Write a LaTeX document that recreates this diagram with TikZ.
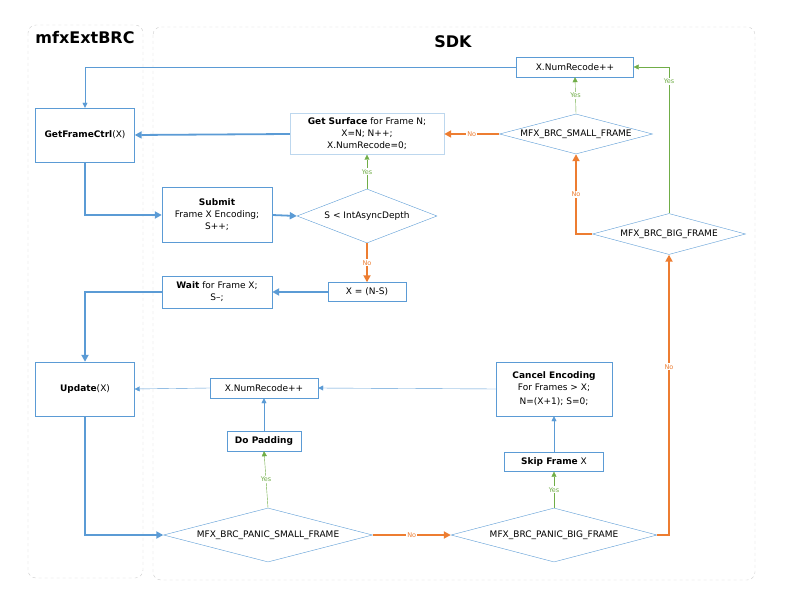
\documentclass[tikz,border=0pt]{standalone}
\usepackage{fontspec}
\setmainfont{DejaVu Sans}
\usetikzlibrary{shapes.geometric,arrows.meta}
\definecolor{fblue}{HTML}{5B9BD5}
\definecolor{forange}{HTML}{ED7D31}
\definecolor{fgreen}{HTML}{70AD47}
\definecolor{flight}{HTML}{BDD7EE}
\begin{document}
\begin{tikzpicture}[x=1pt,y=-1pt,
  font=\fontsize{9}{12}\selectfont,
  box/.style={draw=fblue,rectangle,inner sep=0,align=center},
  dia/.style={draw=fblue,diamond,inner sep=0},
  lane/.style={draw=black!20,dashed,rounded corners=8pt},
  thin/.style={fblue,-{Triangle[width=5pt,length=5pt]}},
  thick/.style={fblue,line width=1.8pt,-{Triangle[width=7pt,length=7pt]}},
  no/.style={forange,line width=1.8pt,-{Triangle[width=7pt,length=7pt]}},
  yes/.style={fgreen,-{Triangle[width=5pt,length=5pt]}},
  lbl/.style={fill=white,inner sep=1pt,font=\fontsize{6.5}{7}\selectfont},
]
\useasboundingbox (0,0) rectangle (792,612);
\draw[lane] (28,25) rectangle (143,578);
\draw[lane] (153,27) rectangle (755,580);
\node[font=\fontsize{16}{18}\selectfont\bfseries] (t1) at (85,38) {mfxExtBRC};
\node[font=\fontsize{16}{18}\selectfont\bfseries] (t2) at (453,42) {SDK};

\node[box,minimum width=99,minimum height=54] (gfc) at (85,135) {\textbf{GetFrameCtrl}(X)};
\node[box,draw=flight,minimum width=154,minimum height=41] (gs) at (367,134) {\textbf{Get Surface} for Frame N;\\X=N; N++;\\X.NumRecode=0;};
\node[box,minimum width=117,minimum height=20] (nr1) at (575,67) {X.NumRecode++};
\node[dia,minimum width=153,minimum height=40] (sf) at (576,134) {\makebox[0pt]{MFX\_BRC\_SMALL\_FRAME}};
\node[dia,minimum width=153,minimum height=41] (bf) at (669,234) {\makebox[0pt]{MFX\_BRC\_BIG\_FRAME}};
\node[box,minimum width=110,minimum height=55] (sub) at (217,215) {\textbf{Submit}\\Frame X Encoding;\\S++;};
\node[dia,minimum width=140,minimum height=54] (sd) at (367,216) {\makebox[0pt]{S < IntAsyncDepth}};
\node[box,minimum width=78,minimum height=19] (xns) at (367,292) {X = (N-S)};
\node[box,minimum width=110,minimum height=32] (wt) at (217,292) {\textbf{Wait} for Frame X;\\S--;};
\node[box,minimum width=99,minimum height=54] (upd) at (85,389) {\textbf{Update}(X)};
\node[box,minimum width=108,minimum height=20] (nr2) at (264,388) {X.NumRecode++};
\node[box,minimum width=74,minimum height=20] (pad) at (264,441) {\textbf{Do Padding}};
\node[box,minimum width=116,minimum height=54] (ce) at (554,389) {\textbf{Cancel Encoding}\\For Frames > X;\\[2pt]N=(X+1); S=0;};
\node[box,minimum width=99,minimum height=19] (sk) at (554,462) {\textbf{Skip Frame} X};
\node[dia,minimum width=209,minimum height=54] (ps) at (268,535) {\makebox[0pt]{MFX\_BRC\_PANIC\_SMALL\_FRAME}};
\node[dia,minimum width=206,minimum height=54] (pb) at (554,535) {\makebox[0pt]{MFX\_BRC\_PANIC\_BIG\_FRAME}};

\draw[thin] (nr1.west) -| (gfc.north);
\draw[thick] (gs.west) -- (gfc.east);
\draw[thick] (gfc.south) |- (sub.west);
\draw[thick] (sub.east) -- (sd.west);
\draw[yes] (sd.north) -- node[lbl] {Yes} (gs.south);
\draw[no] (sd.south) -- node[lbl] {No} (xns.north);
\draw[thick] (xns.west) -- (wt.east);
\draw[thick] (wt.west) -| (upd.north);
\draw[thick] (upd.south) |- (ps.west);
\draw[yes] (ps.north) -- node[lbl] {Yes} (pad.south);
\draw[thin] (pad.north) -- (nr2.south);
\draw[thin] (nr2.west) -- (upd.east);
\draw[no] (ps.east) -- node[lbl] {No} (pb.west);
\draw[yes] (pb.north) -- node[lbl] {Yes} (sk.south);
\draw[thin] (sk.north) -- (ce.south);
\draw[thin] (ce.west) -- (nr2.east);
\draw[no] (pb.east) -| node[lbl,pos=0.8] {No} (bf.south);
\draw[no] (bf.west) -| node[lbl,pos=0.75] {No} (sf.south);
\draw[yes] (bf.north) |- node[lbl,pos=0.45] {Yes} (nr1.east);
\draw[yes] (sf.north) -- node[lbl] {Yes} (nr1.south);
\draw[no] (sf.west) -- node[lbl] {No} (gs.east);
\end{tikzpicture}
\end{document}
